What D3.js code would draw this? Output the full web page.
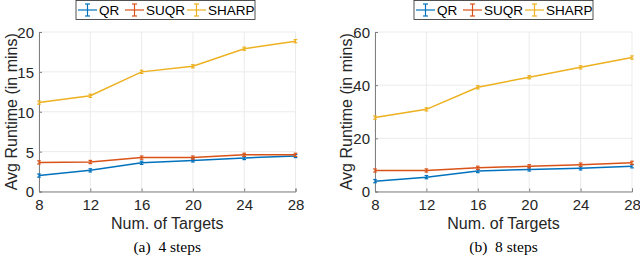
<!DOCTYPE html>
<html>
<head>
<meta charset="utf-8">
<script src="https://cdn.jsdelivr.net/npm/d3@7"></script>
<style>
  body { margin: 0; background: white; }
  svg { display: block; }
</style>
</head>
<body>
<svg width="640" height="261"></svg>
<script>
// data
var targets = [8, 12, 16, 20, 24, 28];
var seriesNames = ["QR", "SUQR", "SHARP"];
var colors = ["#0072BD", "#D95319", "#EDB120"];

// (a) 4 steps
var qr4    = [2.0, 2.65, 3.6, 3.9, 4.2, 4.45];
var suqr4  = [3.65, 3.7, 4.25, 4.25, 4.6, 4.6];
var sharp4 = [11.15, 12.0, 15.0, 15.7, 17.9, 18.85];
var yTicks4 = [0, 5, 10, 15, 20];

// (b) 8 steps
var qr8    = [3.9, 5.4, 7.7, 8.3, 8.7, 9.5];
var suqr8  = [7.9, 7.9, 8.9, 9.5, 10.1, 10.8];
var sharp8 = [27.8, 30.9, 39.2, 43.0, 46.7, 50.4];
var yTicks8 = [0, 20, 40, 60];

var panels = [
  { x0: 39, x1: 295.5, yMax: 20, ticks: yTicks4, series: [qr4, suqr4, sharp4],
    caption: "(a)  4 steps", legendX: 76, ylabX: 11 },
  { x0: 375, x1: 632, yMax: 60, ticks: yTicks8, series: [qr8, suqr8, sharp8],
    caption: "(b)  8 steps", legendX: 414, ylabX: 346 }
];

var svg = d3.select("svg");
var yTop = 32, yBottom = 191.5;
var font = "'Liberation Sans', Arial, sans-serif";

panels.forEach(function(p) {
  var x = d3.scaleLinear().domain([8, 28]).range([p.x0, p.x1]);
  var y = d3.scaleLinear().domain([0, p.yMax]).range([yBottom, yTop]);
  var g = svg.append("g");

  // grid
  g.selectAll("line.gx").data(targets).enter().append("line")
    .attr("x1", function(d) { return x(d); }).attr("x2", function(d) { return x(d); })
    .attr("y1", yTop).attr("y2", yBottom)
    .attr("stroke", "#ebebeb").attr("stroke-width", 1);
  g.selectAll("line.gy").data(p.ticks).enter().append("line")
    .attr("x1", p.x0).attr("x2", p.x1)
    .attr("y1", function(d) { return y(d); }).attr("y2", function(d) { return y(d); })
    .attr("stroke", "#ebebeb").attr("stroke-width", 1);

  // axes
  var xAxis = g.append("g").attr("transform", "translate(0," + yBottom + ")")
    .call(d3.axisBottom(x).tickValues(targets).tickSize(-3));
  var yAxis = g.append("g").attr("transform", "translate(" + p.x0 + ",0)")
    .call(d3.axisLeft(y).tickValues(p.ticks).tickSize(-3).tickPadding(5));
  [xAxis, yAxis].forEach(function(a) {
    a.select(".domain").attr("stroke", "#808080");
    a.selectAll(".tick line").attr("stroke", "#808080");
    a.selectAll("text").attr("fill", "#262626").style("font-family", font).style("font-size", "15px");
  });
  yAxis.selectAll("text").attr("dy", "0.36em");
  xAxis.selectAll("text").attr("y", 18.5).attr("dy", 0);

  // lines with error bars
  p.series.forEach(function(vals, i) {
    var pts = targets.map(function(t, k) { return [t, vals[k]]; });
    g.append("path").datum(pts)
      .attr("fill", "none").attr("stroke", colors[i]).attr("stroke-width", 1.5)
      .attr("d", d3.line().x(function(d) { return x(d[0]); }).y(function(d) { return y(d[1]); }));
    var eb = g.selectAll(null).data(pts).enter().append("g")
      .attr("transform", function(d) { return "translate(" + x(d[0]) + "," + y(d[1]) + ")"; });
    eb.append("line").attr("y1", -1.6).attr("y2", 1.6).attr("stroke", colors[i]).attr("stroke-width", 1.2);
    eb.append("line").attr("x1", -1.8).attr("x2", 1.8).attr("y1", -1.6).attr("y2", -1.6).attr("stroke", colors[i]).attr("stroke-width", 1.2);
    eb.append("line").attr("x1", -1.8).attr("x2", 1.8).attr("y1", 1.6).attr("y2", 1.6).attr("stroke", colors[i]).attr("stroke-width", 1.2);
  });

  // labels
  g.append("text").attr("x", (p.x0 + p.x1) / 2).attr("y", 229)
    .attr("text-anchor", "middle").attr("fill", "#262626")
    .style("font-family", font).style("font-size", "16px").text("Num. of Targets");
  g.append("text").attr("transform", "translate(" + p.ylabX + "," + ((yTop + yBottom) / 2) + ") rotate(-90)")
    .attr("text-anchor", "middle").attr("dy", "0.35em").attr("fill", "#262626")
    .style("font-family", font).style("font-size", "16px").text("Avg Runtime (in mins)");
  g.append("text").attr("x", (p.x0 + p.x1) / 2).attr("y", 252)
    .attr("text-anchor", "middle").attr("fill", "#000")
    .style("font-family", "'Liberation Serif', 'Times New Roman', serif").style("font-size", "15.5px")
    .style("white-space", "pre").text(p.caption);

  // legend
  var lg = g.append("g").attr("transform", "translate(" + p.legendX + ",0.5)");
  lg.append("rect").attr("width", 179).attr("height", 19)
    .attr("fill", "white").attr("stroke", "#262626").attr("stroke-width", 0.8);
  var offs = [2, 49, 111];
  seriesNames.forEach(function(n, i) {
    var it = lg.append("g").attr("transform", "translate(" + offs[i] + ",9.5)");
    it.append("line").attr("x1", 0).attr("x2", 19).attr("stroke", colors[i]).attr("stroke-width", 1.2);
    it.append("line").attr("x1", 9.5).attr("x2", 9.5).attr("y1", -6).attr("y2", 6).attr("stroke", colors[i]).attr("stroke-width", 1.2);
    it.append("line").attr("x1", 7).attr("x2", 12).attr("y1", -6).attr("y2", -6).attr("stroke", colors[i]).attr("stroke-width", 1.2);
    it.append("line").attr("x1", 7).attr("x2", 12).attr("y1", 6).attr("y2", 6).attr("stroke", colors[i]).attr("stroke-width", 1.2);
    it.append("text").attr("x", 21).attr("dy", "0.36em").attr("fill", "#000")
      .style("font-family", font).style("font-size", "13.5px").text(n);
  });
});
</script>
</body>
</html>
